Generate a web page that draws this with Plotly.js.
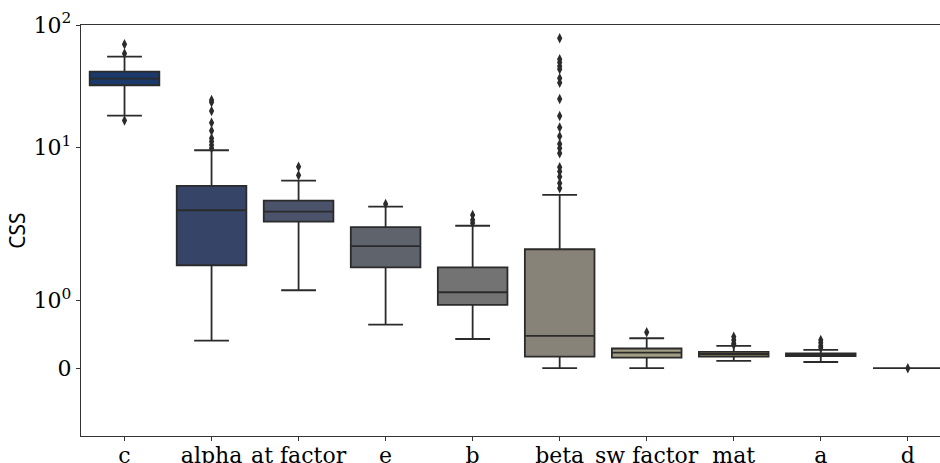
<!DOCTYPE html>
<html>
<head>
<meta charset="utf-8">
<script src="https://cdn.plot.ly/plotly-3.0.1.min.js"></script>
<style>
html,body{margin:0;padding:0;background:#fff;overflow:hidden;}
#chart{width:940px;height:463px;}
</style>
</head>
<body>
<div id="chart"></div>
<script>
// ---- data ----
const categories = ['c','alpha','at factor','e','b','beta','sw factor','mat','a','d'];
const lowerWhisker = [18.1, 0.405, 1.148, 0.641, 0.43, 0.0, 0.0, 0.106, 0.091, 0.0];
const q1Values     = [32.1, 1.517, 2.45, 1.487, 0.932, 0.17, 0.155, 0.172, 0.176, 0.0];
const medianValues = [36.4, 3.04, 2.96, 1.80, 1.119, 0.475, 0.228, 0.209, 0.199, 0.0];
const q3Values     = [41.5, 4.81, 3.64, 2.21, 1.487, 1.753, 0.290, 0.239, 0.217, 0.0];
const upperWhisker = [55.1, 9.43, 5.32, 3.25, 2.27, 4.06, 0.441, 0.327, 0.269, 0.0];
const outliersC = [69.6, 58.3, 16.5];
const outliersAlpha = [24.3, 23.3, 19.8, 15.8, 13.6, 11.8, 11.1, 10.4, 9.8];
const outliersAtFactor = [6.92, 5.88];
const outliersE = [3.42];
const outliersB = [2.78, 2.53, 2.39];
const outliersBeta = [77.9, 52.4, 49.2, 46.0, 43.4, 36.6, 33.7, 24.8, 18.0, 14.5, 12.3, 10.6, 9.8, 8.9, 6.84, 6.30, 5.73, 5.06, 4.60];
const outliersSwFactor = [0.529];
const outliersMat = [0.464, 0.416, 0.367, 0.345];
const outliersA = [0.416, 0.376, 0.332, 0.30];
const outliersD = [0.0];
const outlierLists = [outliersC, outliersAlpha, outliersAtFactor, outliersE, outliersB,
  outliersBeta, outliersSwFactor, outliersMat, outliersA, outliersD];
const boxColors = ['#1b3a6b','#364567','#4b536b','#5f636c','#737373','#878379','#a29d85','#a9a072','#8a8258','#eedd6a'];
const yTickValues = [0, 1, 10, 100];
const yTickLabels = ['0','10<sup>0</sup>','10<sup>1</sup>','10<sup>2</sup>'];
const yLimits = [-1, 100];

// symmetric log transform (linthresh 2, base 10, linscale 1) like matplotlib symlog
function symlog(v){
  const lt = 2, ls = 1/(1-1/10);
  const a = Math.abs(v);
  if (a <= lt) return v*ls;
  return Math.sign(v)*lt*(ls + Math.log10(a/lt));
}

const lineColor = '#2b2b2b';
const traces = [];
categories.forEach((cat,i)=>{
  traces.push({
    type:'box', x:[cat],
    q1:[symlog(q1Values[i])], median:[symlog(medianValues[i])], q3:[symlog(q3Values[i])],
    lowerfence:[symlog(lowerWhisker[i])], upperfence:[symlog(upperWhisker[i])],
    fillcolor: boxColors[i], line:{color:lineColor, width:1.8},
    width:0.8, whiskerwidth:0.5, boxpoints:false, showlegend:false, hoverinfo:'skip'
  });
});
categories.forEach((cat,i)=>{
  const pts = outlierLists[i];
  traces.push({
    type:'scatter', mode:'markers',
    x: pts.map(()=>cat), y: pts.map(symlog),
    marker:{symbol:'diamond-tall', size:7.5, color:lineColor, line:{width:0}},
    showlegend:false, hoverinfo:'skip', cliponaxis:false
  });
});

const layout = {
  width:940, height:463,
  margin:{l:81, r:0, t:25, b:27, pad:0},
  paper_bgcolor:'#ffffff', plot_bgcolor:'#ffffff',
  font:{family:'DejaVu Serif', size:22, color:'#000'},
  showlegend:false,
  xaxis:{
    type:'category', categoryorder:'array', categoryarray:categories,
    range:[-0.5, 9.37],
    showline:true, mirror:true, linecolor:'#333', linewidth:1.2,
    ticks:'outside', ticklen:4, tickwidth:1, tickcolor:'#333',
    ticklabelstandoff:-5,
    showgrid:false, zeroline:false,
    tickfont:{family:'DejaVu Serif', size:22, color:'#000'}
  },
  yaxis:{
    range:[symlog(yLimits[0]), symlog(yLimits[1])],
    tickmode:'array', tickvals:yTickValues.map(symlog), ticktext:yTickLabels,
    showline:true, linecolor:'#333', linewidth:1.2,
    ticks:'outside', ticklen:4, tickwidth:1, tickcolor:'#333',
    showgrid:false, zeroline:false,
    tickfont:{family:'DejaVu Serif', size:22, color:'#000'},
    title:{text:'CSS', font:{family:'Noto Sans', size:21, color:'#000'}, standoff:2}
  }
};

Plotly.newPlot('chart', traces, layout, {staticPlot:true, displayModeBar:false});
</script>
</body>
</html>
